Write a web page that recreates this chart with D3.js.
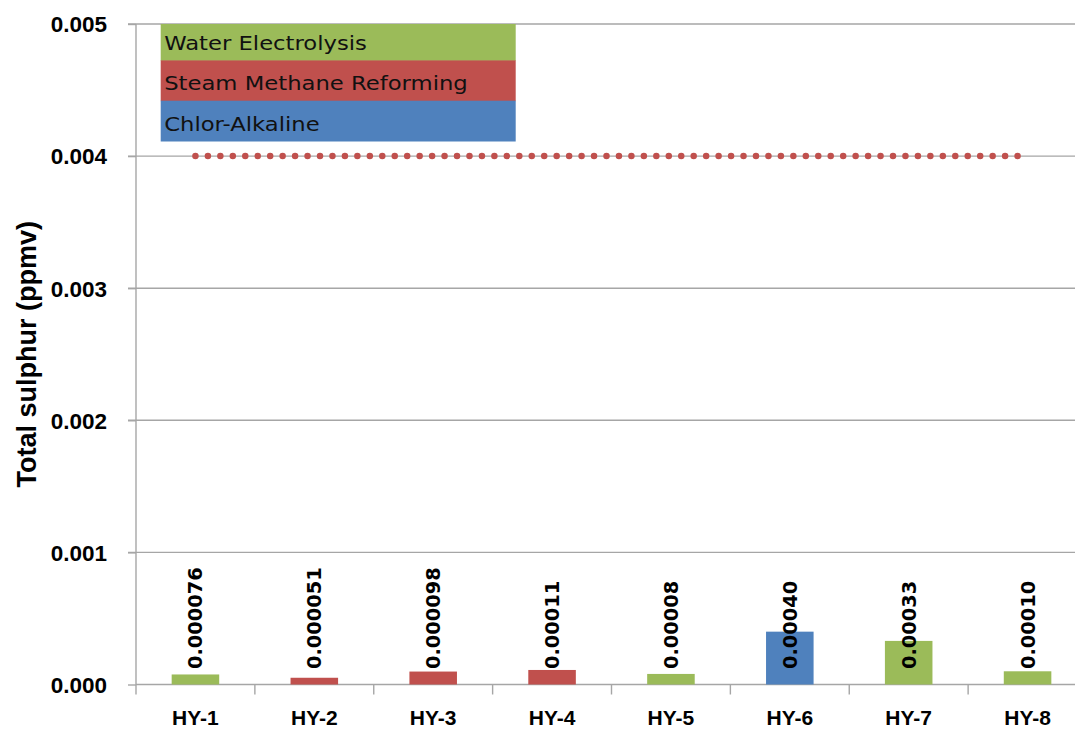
<!DOCTYPE html>
<html>
<head>
<meta charset="utf-8">
<script src="https://cdn.jsdelivr.net/npm/d3@7"></script>
<style>
  html, body { margin: 0; padding: 0; background: #fff; }
  svg { display: block; }
</style>
</head>
<body>
<svg id="chart" width="1075" height="729"></svg>
<script>
// Hydrogen samples and measured total sulphur (ppmv)
const categories = ["HY-1", "HY-2", "HY-3", "HY-4", "HY-5", "HY-6", "HY-7", "HY-8"];
const values = [0.000076, 0.000051, 0.000098, 0.00011, 0.00008, 0.00040, 0.00033, 0.00010];
const valueLabels = ["0.000076", "0.000051", "0.000098", "0.00011", "0.00008", "0.00040", "0.00033", "0.00010"];
const processes = [
  "Water Electrolysis", "Steam Methane Reforming", "Steam Methane Reforming", "Steam Methane Reforming",
  "Water Electrolysis", "Chlor-Alkaline", "Water Electrolysis", "Water Electrolysis"
];
const legendItems = ["Water Electrolysis", "Steam Methane Reforming", "Chlor-Alkaline"];
const legendColors = ["#9BBB59", "#C0504D", "#4F81BD"];
const yTicks = [0, 0.001, 0.002, 0.003, 0.004, 0.005];
const sulphurLimit = 0.004;
const yTitle = "Total sulphur (ppmv)";

const W = 1075, H = 729;
const plot = { left: 136, right: 1087, top: 24, bottom: 684.5 };
const boldSans = "'Liberation Sans', Arial, sans-serif";
const wideSans = "'DejaVu Sans', sans-serif";

const svg = d3.select("#chart");

const x = d3.scaleBand()
  .domain(categories)
  .range([plot.left, plot.right])
  .paddingInner(0.6)
  .paddingOuter(0.3);

const y = d3.scaleLinear()
  .domain([0, 0.005])
  .range([plot.bottom, plot.top]);

const color = d3.scaleOrdinal().domain(legendItems).range(legendColors);

// horizontal gridlines
svg.append("g")
  .selectAll("line")
  .data(yTicks.filter(d => d > 0))
  .join("line")
  .attr("x1", plot.left - 8)
  .attr("x2", W)
  .attr("y1", d => y(d))
  .attr("y2", d => y(d))
  .attr("stroke", "#A6A6A6")
  .attr("stroke-width", 1.4);

// y axis
const yAxis = svg.append("g")
  .attr("transform", `translate(${plot.left},0)`)
  .call(d3.axisLeft(y).tickValues(yTicks).tickFormat(d3.format(".3f")).tickSize(8).tickPadding(21));
yAxis.select(".domain").remove();
yAxis.selectAll(".tick line").attr("stroke", "#A6A6A6").attr("stroke-width", 1.4);
yAxis.selectAll(".tick text")
  .style("font-family", boldSans)
  .style("font-weight", "bold")
  .style("font-size", "22.5px")
  .attr("dy", "0.35em")
  .attr("fill", "#000");
svg.append("line")
  .attr("x1", plot.left).attr("x2", plot.left)
  .attr("y1", plot.top).attr("y2", plot.bottom + 10)
  .attr("stroke", "#A6A6A6").attr("stroke-width", 1.4);

// x axis baseline and category separators
svg.append("line")
  .attr("x1", plot.left).attr("x2", W)
  .attr("y1", plot.bottom).attr("y2", plot.bottom)
  .attr("stroke", "#A6A6A6").attr("stroke-width", 1.4);
svg.append("g")
  .selectAll("line")
  .data(d3.range(1, categories.length))
  .join("line")
  .attr("x1", i => plot.left + i * x.step())
  .attr("x2", i => plot.left + i * x.step())
  .attr("y1", plot.bottom)
  .attr("y2", plot.bottom + 10)
  .attr("stroke", "#A6A6A6").attr("stroke-width", 1.4);

// category labels
svg.append("g")
  .selectAll("text")
  .data(categories)
  .join("text")
  .attr("x", d => x(d) + x.bandwidth() / 2)
  .attr("y", 725)
  .attr("text-anchor", "middle")
  .attr("fill", "#000")
  .style("font-family", boldSans)
  .style("font-weight", "bold")
  .style("font-size", "21px")
  .text(d => d);

// bars
svg.append("g")
  .selectAll("rect")
  .data(categories)
  .join("rect")
  .attr("x", d => x(d))
  .attr("width", x.bandwidth())
  .attr("y", (d, i) => y(values[i]))
  .attr("height", (d, i) => y(0) - y(values[i]))
  .attr("fill", (d, i) => color(processes[i]));

// value labels, rotated
svg.append("g")
  .selectAll("text")
  .data(categories)
  .join("text")
  .attr("transform", d => `translate(${x(d) + x.bandwidth() / 2},669) rotate(-90)`)
  .attr("dy", "0.36em")
  .attr("text-anchor", "start")
  .attr("fill", "#000")
  .style("font-family", wideSans)
  .style("font-weight", "bold")
  .style("font-size", "19.4px")
  .text((d, i) => valueLabels[i]);

// limit line drawn as round dots
const limitX0 = x(categories[0]) + x.bandwidth() / 2;
const limitX1 = x(categories[categories.length - 1]) + x.bandwidth() / 2 - 10;
const dotCount = 66;
svg.append("line")
  .attr("x1", limitX0).attr("x2", limitX1)
  .attr("y1", y(sulphurLimit)).attr("y2", y(sulphurLimit))
  .attr("stroke", "#C0504D")
  .attr("stroke-width", 6.5)
  .attr("stroke-linecap", "round")
  .attr("stroke-dasharray", `0 ${(limitX1 - limitX0) / dotCount}`);

// legend block
const legend = { left: 160.7, right: 515.7, bottom: 141, rowH: 40.3 };
svg.append("clipPath").attr("id", "plotClip")
  .append("rect").attr("x", 0).attr("y", plot.top).attr("width", W).attr("height", H - plot.top);
const lg = svg.append("g").attr("clip-path", "url(#plotClip)");
const rowTop = i => legend.bottom - (legendItems.length - i) * legend.rowH;
lg.selectAll("rect")
  .data(legendItems)
  .join("rect")
  .attr("x", legend.left)
  .attr("y", (d, i) => rowTop(i))
  .attr("width", legend.right - legend.left)
  .attr("height", legend.rowH + 0.5)
  .attr("fill", d => color(d));
lg.selectAll("text")
  .data(legendItems)
  .join("text")
  .attr("x", legend.left + 3.5)
  .attr("y", (d, i) => rowTop(i) + 30)
  .attr("fill", "#111")
  .style("font-family", wideSans)
  .style("font-size", "20px")
  .text(d => d)
  .each(function () {
    const len = this.getComputedTextLength();
    d3.select(this).attr("textLength", len * 1.135).attr("lengthAdjust", "spacingAndGlyphs");
  });

// y axis title
svg.append("text")
  .attr("transform", `translate(35.5,${(plot.top + plot.bottom) / 2}) rotate(-90)`)
  .attr("text-anchor", "middle")
  .attr("fill", "#000")
  .style("font-family", boldSans)
  .style("font-weight", "bold")
  .style("font-size", "27px")
  .text(yTitle);
</script>
</body>
</html>
